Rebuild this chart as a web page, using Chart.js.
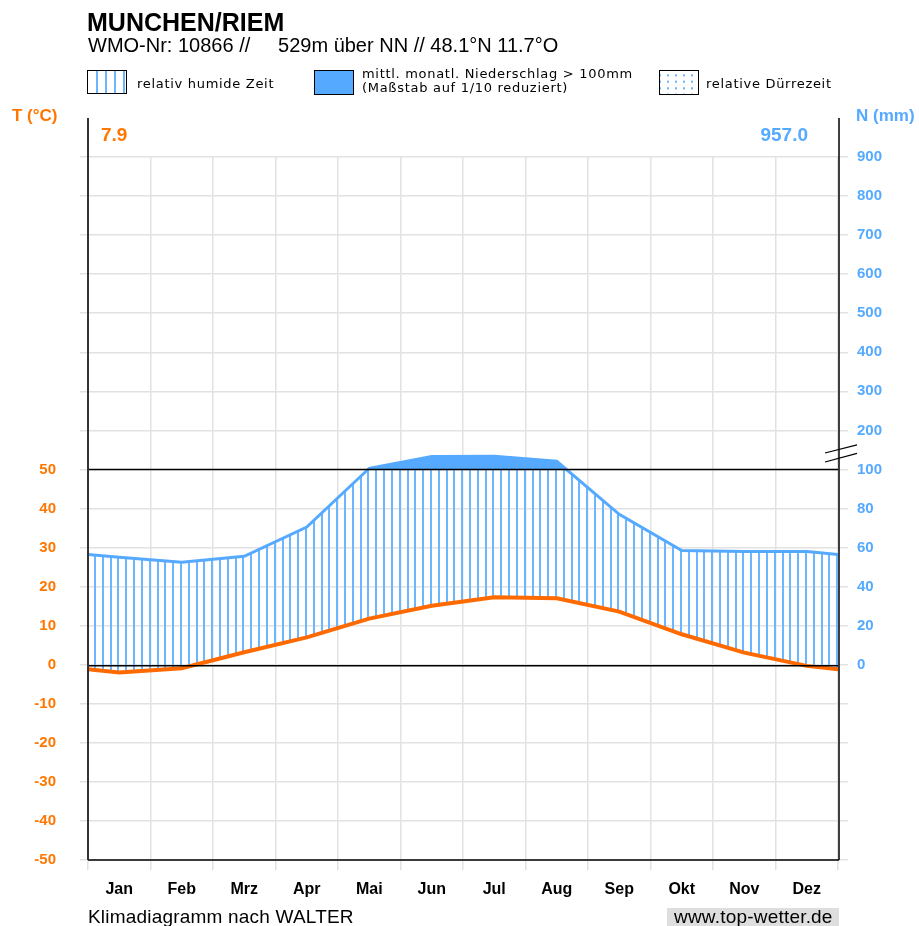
<!DOCTYPE html>
<html>
<head>
<meta charset="utf-8">
<script src="https://cdn.jsdelivr.net/npm/chart.js@4.4.1/dist/chart.umd.min.js"></script>
<style>
body{margin:0;background:#fff;font-family:"Liberation Sans",Arial,sans-serif;}
#wrap{position:relative;width:919px;height:926px;overflow:hidden;}
#wrap canvas{position:absolute;left:0;top:0;}
.t{position:absolute;white-space:pre;line-height:1;}
.lg{position:absolute;white-space:pre;line-height:1;font-family:"DejaVu Sans",sans-serif;font-size:13px;letter-spacing:0.7px;color:#000;}
.box{position:absolute;border:1px solid #000;box-sizing:border-box;}
</style>
</head>
<body>
<div id="wrap">
  <canvas id="myChart" width="919" height="926"></canvas>

  <div class="t" style="left:87px;top:10px;font-size:25px;font-weight:bold;">MUNCHEN/RIEM</div>
  <div class="t" style="left:88px;top:35px;font-size:20px;">WMO-Nr: 10866 //     529m über NN // 48.1°N 11.7°O</div>

  <div class="box" style="left:87px;top:70px;width:40px;height:24px;background-image:repeating-linear-gradient(90deg,transparent 0px,transparent 7px,#6cb6ff 7px,#6cb6ff 9px);background-position:1px 0;"></div>
  <div class="lg" style="left:137px;top:77px;">relativ humide Zeit</div>

  <div class="box" style="left:314px;top:70px;width:40px;height:25px;background:#55aaff;"></div>
  <div class="lg" style="left:362px;top:67px;">mittl. monatl. Niederschlag &gt; 100mm</div>
  <div class="lg" style="left:362px;top:81px;">(Maßstab auf 1/10 reduziert)</div>

  <div class="box" style="left:659px;top:70px;width:40px;height:25px;background-image:radial-gradient(circle,#55aaff 0.9px,transparent 1.2px);background-size:8px 6.5px;background-position:4px 1px;"></div>
  <div class="lg" style="left:706px;top:77px;">relative Dürrezeit</div>

  <div class="t" style="left:12px;top:107px;font-size:17px;font-weight:bold;color:#ff7700;">T (°C)</div>
  <div class="t" style="left:856px;top:107px;font-size:17px;font-weight:bold;color:#55aaff;">N (mm)</div>
  <div class="t" id="annualT" style="left:101px;top:125px;font-size:19px;font-weight:bold;color:#ff7700;"></div>
  <div class="t" id="annualN" style="right:111px;top:125px;font-size:19px;font-weight:bold;color:#55aaff;"></div>

  <div class="t" style="left:88px;top:907px;font-size:19px;letter-spacing:0.2px;">Klimadiagramm nach WALTER</div>
  <div class="t" style="left:667px;top:908px;width:172px;height:18px;background:#dedede;"></div>
  <div class="t" style="left:674px;top:907px;font-size:19px;letter-spacing:0.2px;">www.top-wetter.de</div>
</div>

<script>
// monthly means, Munchen/Riem
const months = ['Jan','Feb','Mrz','Apr','Mai','Jun','Jul','Aug','Sep','Okt','Nov','Dez']
const temperature = [-2.0, -0.9, 3.2, 7.0, 11.8, 15.1, 17.3, 17.0, 13.6, 7.8, 3.1, -0.3]
const precipitation = [55, 52.5, 55.5, 70.5, 103, 133, 134, 121, 77, 58.5, 58, 58]
const annualTemp = '7.9'
const annualPrecip = '957.0'

document.getElementById('annualT').textContent = annualTemp
document.getElementById('annualN').textContent = annualPrecip

const orange = '#ff6a00'
const orangeText = '#ff7700'
const blue = '#55aaff'

// Walter scale: 10 C = 20 mm, above 100 mm reduced to 1/10
function mmToAxis(p) {
    return p <= 100 ? p / 2 : 50 + (p - 100) / 10
}
function axisToMm(v) {
    return v <= 50 ? v * 2 : 100 + (v - 50) * 10
}

// points sit mid-month, Dez and Jan repeated at both ends so the curve runs to the frame
function monthPoints(values, conv) {
    const pts = values.map((v, i) => ({ x: i + 0.5, y: conv(v) }))
    pts.unshift({ x: -0.5, y: conv(values[11]) })
    pts.push({ x: 12.5, y: conv(values[0]) })
    return pts
}
const tempPoints = monthPoints(temperature, v => v)
const precipPoints = monthPoints(precipitation, mmToAxis)

// hatch for humid period: 16 lines per 125px tile (8 per month)
const hatchCanvas = document.createElement('canvas')
hatchCanvas.width = 125
hatchCanvas.height = 2
const hctx = hatchCanvas.getContext('2d')
hctx.fillStyle = '#6cb6ff'
for (let k = 0; k < 16; k++) {
    hctx.fillRect(Math.round(6 + k * 7.8125), 0, 2, 2)
}
const dotCanvas = document.createElement('canvas')
dotCanvas.width = 8
dotCanvas.height = 7
const dctx = dotCanvas.getContext('2d')
dctx.fillStyle = blue
dctx.fillRect(3, 3, 1, 2)

const ctx = document.getElementById('myChart')
const hatch = ctx.getContext('2d').createPattern(hatchCanvas, 'repeat')
const dots = ctx.getContext('2d').createPattern(dotCanvas, 'repeat')

const patternAlign = {
    id: 'patternAlign',
    beforeDatasetsDraw(chart) {
        const m = new DOMMatrix([1, 0, 0, 1, chart.chartArea.left, 0])
        hatch.setTransform(m)
        dots.setTransform(m)
    }
}

const frame = {
    id: 'frame',
    afterDraw(chart) {
        const c = chart.ctx
        const a = chart.chartArea
        const y = chart.scales.y
        const top = y.getPixelForValue(140)
        c.save()
        c.strokeStyle = '#000'
        c.lineWidth = 1.5
        function seg(x1, y1, x2, y2) {
            c.beginPath(); c.moveTo(x1, y1); c.lineTo(x2, y2); c.stroke()
        }
        seg(a.left, y.getPixelForValue(0) + 1, a.right, y.getPixelForValue(0) + 1)
        seg(a.left, y.getPixelForValue(50), a.right, y.getPixelForValue(50))
        seg(a.left, a.bottom, a.right + 1, a.bottom)
        seg(a.right + 1, top, a.right + 1, a.bottom)
        c.strokeStyle = '#333'
        c.lineWidth = 2
        seg(a.left, top, a.left, a.bottom)
        // axis break between 100 and 200 mm
        c.strokeStyle = '#000'
        c.lineWidth = 1.2
        seg(a.right - 13, y.getPixelForValue(54.2), a.right + 19, y.getPixelForValue(56.3))
        seg(a.right - 13, y.getPixelForValue(51.9), a.right + 19, y.getPixelForValue(54.1))
        c.restore()
    }
}

const tickFont = { family: 'Liberation Sans', weight: 'bold', size: 15 }

const myChart = new Chart(ctx, {
    type: 'line',
    data: {
        datasets: [{
            label: 'Niederschlag',
            data: precipPoints,
            borderColor: blue,
            borderWidth: 3,
            pointRadius: 0,
            tension: 0,
            clip: 0,
            fill: { target: { value: 50 }, above: blue, below: 'rgba(0,0,0,0)' }
        }, {
            label: 'Temperatur',
            data: tempPoints,
            borderColor: orange,
            borderWidth: 4,
            pointRadius: 0,
            tension: 0,
            clip: 0,
            fill: false
        }, {
            label: 'humid',
            data: precipPoints,
            borderWidth: 0,
            borderColor: 'rgba(0,0,0,0)',
            pointRadius: 0,
            tension: 0,
            clip: 0,
            fill: { target: 1, above: hatch, below: dots }
        }]
    },
    options: {
        responsive: false,
        animation: false,
        layout: { padding: { top: 157, left: 0, right: 0, bottom: 0 } },
        plugins: { legend: { display: false }, tooltip: { enabled: false } },
        scales: {
            x: {
                type: 'linear',
                min: 0,
                max: 12,
                ticks: {
                    stepSize: 1,
                    labelOffset: 31.25,
                    padding: 10,
                    color: '#000',
                    font: { family: 'Liberation Sans', weight: 'bold', size: 16 },
                    callback: v => months[v] || ''
                },
                grid: { color: '#e2e2e2', lineWidth: 1.5, tickLength: 10 },
                border: { display: false },
                afterFit: s => { s.height = 66 }
            },
            y: {
                position: 'left',
                min: -50,
                max: 130,
                ticks: {
                    stepSize: 10,
                    padding: 24,
                    color: orangeText,
                    font: tickFont,
                    callback: v => v <= 50 ? v : ''
                },
                grid: { color: '#e2e2e2', lineWidth: 1.5, tickLength: 8 },
                border: { display: false },
                afterFit: s => { s.width = 88 }
            },
            y2: {
                position: 'right',
                min: -50,
                max: 130,
                ticks: {
                    stepSize: 10,
                    padding: 9,
                    color: blue,
                    font: tickFont,
                    callback: v => v >= 0 ? axisToMm(v) : ''
                },
                grid: { color: '#e2e2e2', lineWidth: 1.5, tickLength: 10, drawOnChartArea: false },
                border: { display: false },
                afterFit: s => { s.width = 81 }
            }
        }
    },
    plugins: [patternAlign, frame]
})
</script>
</body>
</html>
